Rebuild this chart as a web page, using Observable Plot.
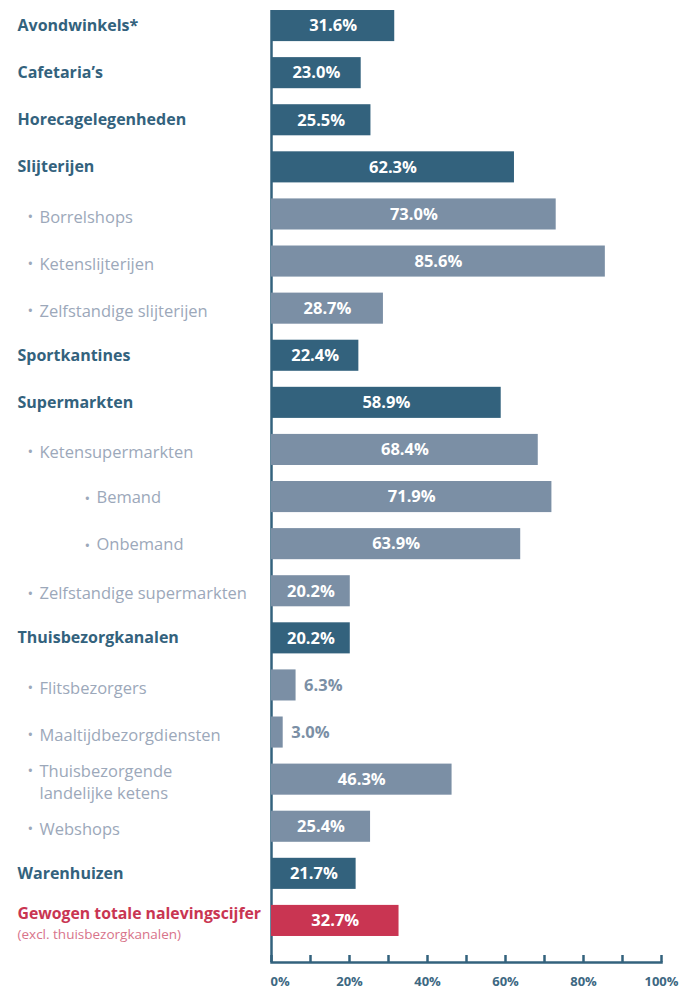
<!DOCTYPE html>
<html><head><meta charset="utf-8">
<script src="https://cdn.jsdelivr.net/npm/d3@7"></script>
<script src="https://cdn.jsdelivr.net/npm/@observablehq/plot@0.6"></script>
<style>body{margin:0;background:#fff;} svg{display:block}</style>
</head><body><div id="chart"></div>
<script>
const categories = ["Avondwinkels*","Cafetaria’s","Horecagelegenheden","Slijterijen","Borrelshops","Ketenslijterijen","Zelfstandige slijterijen","Sportkantines","Supermarkten","Ketensupermarkten","Bemand","Onbemand","Zelfstandige supermarkten","Thuisbezorgkanalen","Flitsbezorgers","Maaltijdbezorgdiensten","Thuisbezorgende landelijke ketens","Webshops","Warenhuizen","Gewogen totale nalevingscijfer"];
const labels = ["Avondwinkels*","Cafetaria’s","Horecagelegenheden","Slijterijen","Borrelshops","Ketenslijterijen","Zelfstandige slijterijen","Sportkantines","Supermarkten","Ketensupermarkten","Bemand","Onbemand","Zelfstandige supermarkten","Thuisbezorgkanalen","Flitsbezorgers","Maaltijdbezorgdiensten","Thuisbezorgende\nlandelijke ketens","Webshops","Warenhuizen","Gewogen totale nalevingscijfer"];
const values = [31.6,23.0,25.5,62.3,73.0,85.6,28.7,22.4,58.9,68.4,71.9,63.9,20.2,20.2,6.3,3.0,46.3,25.4,21.7,32.7];
const types = ["main","main","main","main","sub","sub","sub","main","main","sub","sub2","sub2","sub","main","sub","sub","sub","sub","main","total"];
const totalNote = "(excl. thuisbezorgkanalen)";
const tickValues = [0,10,20,30,40,50,60,70,80,90,100];
const tickLabelValues = [0,20,40,60,80,100];

const dark = "#33627d", light = "#7b8fa5", red = "#c93552", subText = "#9ca8ba", redSub = "#d8738a";
const barColor = {main: dark, sub: light, sub2: light, total: red};
const rows = categories.map((c, i) => ({category: c, label: labels[i], value: values[i], type: types[i]}));
const ML = 271, H = 989, MB = 27;
const font = "'Open Sans', Lato, sans-serif";
const isMulti = d => d.label.includes("\n");

const plot = Plot.plot({
  width: 680, height: H,
  marginLeft: ML, marginRight: 19, marginTop: 0, marginBottom: MB,
  x: {domain: [0, 100], axis: null},
  y: {domain: categories, axis: null, round: false, paddingInner: 0.34, paddingOuter: 0.3825, align: 0.278},
  color: {type: "identity"},
  style: {fontFamily: font, background: "white"},
  marks: [
    Plot.ruleX([0], {stroke: dark, strokeWidth: 2.5, insetTop: 10}),
    Plot.frame({anchor: "bottom", stroke: dark, strokeWidth: 2.5}),
    Plot.tickX(tickValues, {x: d => d, stroke: dark, strokeWidth: 2.5, insetTop: H - MB - 7}),
    Plot.text(tickLabelValues.filter(d => d === 0), {x: d => d, text: d => d + "%", frameAnchor: "bottom", lineAnchor: "middle", dy: 19, textAnchor: "start", dx: -1, fill: "#3d6882", fontSize: 13, fontWeight: 700}),
    Plot.text(tickLabelValues.filter(d => d !== 0), {x: d => d, text: d => d + "%", frameAnchor: "bottom", lineAnchor: "middle", dy: 19, fill: "#3d6882", fontSize: 13, fontWeight: 700}),
    Plot.barX(rows, {y: "category", x: "value", fill: d => barColor[d.type]}),
    // values
    Plot.text(rows.filter(d => d.value >= 10), {y: "category", x: d => d.value / 2, text: d => d.value.toFixed(1) + "%", fill: "white", fontSize: 16.5, fontWeight: 700}),
    Plot.text(rows.filter(d => d.value < 10), {y: "category", x: "value", text: d => d.value.toFixed(1) + "%", fill: light, fontSize: 16.5, fontWeight: 700, textAnchor: "start", dx: 8}),
    // labels
    Plot.text(rows.filter(d => d.type === "main"), {y: "category", text: "label", frameAnchor: "left", textAnchor: "start", dx: 17 - ML, fill: dark, fontSize: 16, fontWeight: 700}),
    Plot.text(rows.filter(d => d.type === "sub" && !isMulti(d)), {y: "category", text: () => "•", frameAnchor: "left", textAnchor: "start", dx: 27 - ML, dy: 2.5, fill: subText, fontSize: 15}),
    Plot.text(rows.filter(d => d.type === "sub" && isMulti(d)), {y: "category", text: () => "•", frameAnchor: "left", textAnchor: "start", dx: 27 - ML, dy: -8.5, fill: subText, fontSize: 15}),
    Plot.text(rows.filter(d => d.type === "sub"), {y: "category", text: "label", frameAnchor: "left", textAnchor: "start", dx: 39 - ML, dy: 1, fill: subText, fontSize: 16.5, fontWeight: 400, lineHeight: 1.35}),
    Plot.text(rows.filter(d => d.type === "sub2"), {y: "category", text: () => "•", frameAnchor: "left", textAnchor: "start", dx: 84 - ML, dy: 2.5, fill: subText, fontSize: 15}),
    Plot.text(rows.filter(d => d.type === "sub2"), {y: "category", text: "label", frameAnchor: "left", textAnchor: "start", dx: 96 - ML, dy: 1, fill: subText, fontSize: 16.5, fontWeight: 400}),
    Plot.text(rows.filter(d => d.type === "total"), {y: "category", text: "label", frameAnchor: "left", textAnchor: "start", dx: 17 - ML, dy: -7, fill: red, fontSize: 15.8, fontWeight: 700}),
    Plot.text(rows.filter(d => d.type === "total"), {y: "category", text: () => totalNote, frameAnchor: "left", textAnchor: "start", dx: 17 - ML, dy: 14, fill: redSub, fontSize: 13.5, fontWeight: 400})
  ]
});
document.getElementById("chart").append(plot);
</script>
</body></html>
